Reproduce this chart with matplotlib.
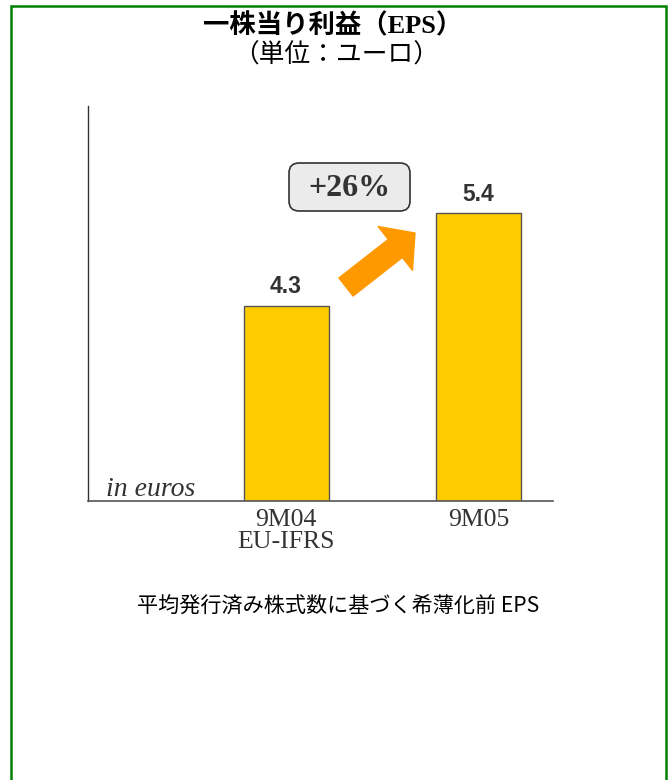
import matplotlib
matplotlib.use("Agg")
import matplotlib.pyplot as plt
from matplotlib.patches import FancyBboxPatch, FancyArrowPatch, Rectangle

# chart data
periods = ["9M04\nEU-IFRS", "9M05"]
eps = [4.3, 5.4]
growth_label = "+26%"

title = "一株当り利益（EPS）"
subtitle = "（単位：ユーロ）"
footnote = "平均発行済み株式数に基づく希薄化前 EPS"

cjk = ["Noto Sans CJK JP", "DejaVu Sans"]
serif_cjk = ["Liberation Serif", "Noto Sans CJK JP"]

fig = plt.figure(figsize=(6.69, 7.80), dpi=100)
ax = fig.add_axes([0.1315, 0.3577, 0.6951, 0.5064])

xs = list(range(len(eps)))
ax.bar(xs, eps, width=0.442, color="#FFCC00", edgecolor="#555555", linewidth=1.0)
for x, v in zip(xs, eps):
    ax.annotate(f"{v:.1f}", xy=(x, v), xytext=(0, 14), textcoords="offset points",
                ha="center", va="center", fontsize=16.5, fontweight="bold",
                family="Liberation Sans", color="#333333")

ax.set_xlim(-1.03, 1.388)
ax.set_ylim(1.981, 6.678)
ax.set_xticks(xs, periods)
ax.tick_params(axis="x", length=0, pad=6, labelsize=18.5, labelcolor="#333333")
for lbl in ax.get_xticklabels():
    lbl.set_family("Liberation Serif")
    lbl.set_linespacing(1.0)
ax.set_yticks([])
for s in ["top", "right"]:
    ax.spines[s].set_visible(False)
ax.spines["left"].set_color("#333333")
ax.spines["bottom"].set_color("#555555")
ax.spines["left"].set_linewidth(1.0)
ax.spines["bottom"].set_linewidth(1.2)

fig.text(106 / 669, 1 - 490 / 780, "in euros", ha="left", va="center", fontsize=20,
         style="italic", family="Liberation Serif", color="#333333")

# growth box and arrow
box = FancyBboxPatch((2.89, 5.69), 1.21, 0.48, boxstyle="round,pad=0,rounding_size=0.1",
                     transform=fig.dpi_scale_trans, facecolor="#EBEBEB",
                     edgecolor="#333333", linewidth=1.2)
fig.patches.append(box)
fig.text(349.5 / 669, 1 - 188 / 780, growth_label, ha="center", va="center", fontsize=23,
         fontweight="bold", family="Liberation Serif", color="#333333")

arrow = FancyArrowPatch((346 / 669, 1 - 287 / 780), (415 / 669, 1 - 233 / 780),
                        transform=fig.transFigure,
                        arrowstyle="simple,head_width=40,head_length=18,tail_width=16.5",
                        color="#FF9900", shrinkA=0, shrinkB=0, mutation_scale=1)
fig.patches.append(arrow)

# titles
fig.text(333 / 669, 1 - 26 / 780, title, ha="center", va="center", fontsize=19,
         fontweight="bold", family=serif_cjk, color="black")
fig.text(336 / 669, 1 - 56 / 780, subtitle, ha="center", va="center", fontsize=18.5,
         family=cjk, color="black")
fig.text(338 / 669, 1 - 606 / 780, footnote, ha="center", va="center", fontsize=15.2,
         family=cjk, color="black")

# green frame, open at the bottom
frame = Rectangle((0.11, -0.1), 6.55, 7.84, transform=fig.dpi_scale_trans,
                  fill=False, edgecolor="#008000", linewidth=1.8, clip_on=False)
fig.patches.append(frame)

fig.savefig("out.png", dpi=100)
